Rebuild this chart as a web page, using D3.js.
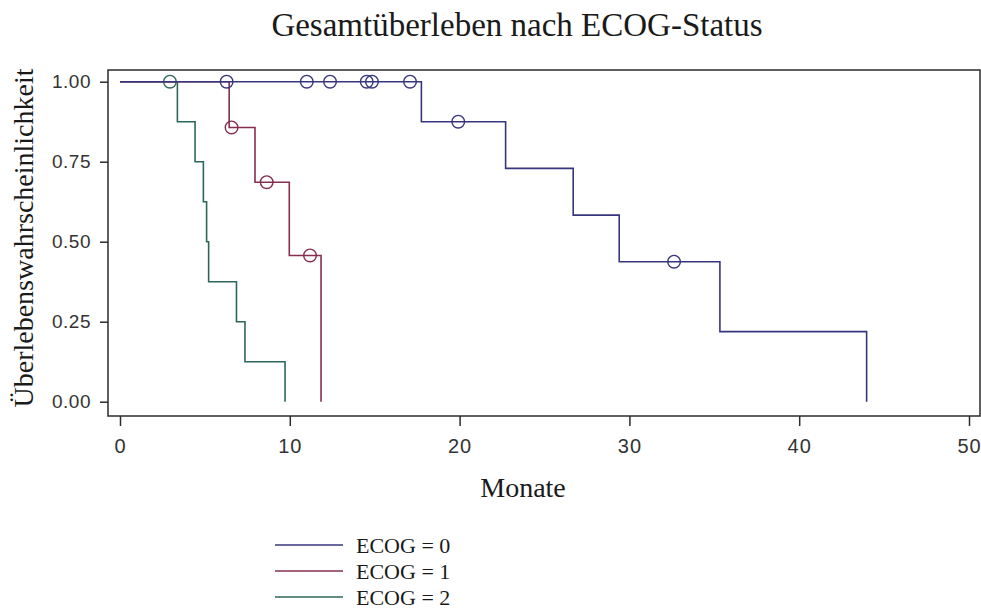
<!DOCTYPE html>
<html>
<head>
<meta charset="utf-8">
<script src="https://cdn.jsdelivr.net/npm/d3@7"></script>
<style>
  html, body { margin: 0; padding: 0; background: #ffffff; }
  svg { display: block; }
</style>
</head>
<body>
<svg id="chart" width="981" height="611"></svg>
<script>
// ---- data ----
const titleText = "Gesamtüberleben nach ECOG-Status";
const xLabel = "Monate";
const yLabel = "Überlebenswahrscheinlichkeit";
const xTicks = [0, 10, 20, 30, 40, 50];
const yTicks = [0, 0.25, 0.5, 0.75, 1.0];
const seriesNames = ["ECOG = 0", "ECOG = 1", "ECOG = 2"];
const seriesColors = ["#36367f", "#862f4b", "#2f665a"];

// ECOG = 0
const ecog0Times = [0, 17.75, 22.71, 26.69, 29.40, 35.33, 43.97];
const ecog0Surv  = [1, 0.875, 0.729, 0.583, 0.4375, 0.219, 0];
const ecog0CensorTimes = [6.28, 11.0, 12.37, 14.53, 14.84, 17.08, 19.92, 32.63];
const ecog0CensorSurv  = [1, 1, 1, 1, 1, 1, 0.875, 0.4375];

// ECOG = 1
const ecog1Times = [0, 6.43, 7.95, 9.97, 11.84];
const ecog1Surv  = [1, 0.857, 0.686, 0.457, 0];
const ecog1CensorTimes = [6.57, 8.64, 11.19];
const ecog1CensorSurv  = [0.857, 0.686, 0.457];

// ECOG = 2
const ecog2Times = [0, 3.38, 4.42, 4.91, 5.10, 5.22, 6.86, 7.36, 9.72];
const ecog2Surv  = [1, 0.875, 0.75, 0.625, 0.5, 0.375, 0.25, 0.125, 0];
const ecog2CensorTimes = [2.94];
const ecog2CensorSurv  = [1];

// ---- build ----
const series = [
  { name: seriesNames[0], color: seriesColors[0], t: ecog0Times, s: ecog0Surv, ct: ecog0CensorTimes, cs: ecog0CensorSurv },
  { name: seriesNames[1], color: seriesColors[1], t: ecog1Times, s: ecog1Surv, ct: ecog1CensorTimes, cs: ecog1CensorSurv },
  { name: seriesNames[2], color: seriesColors[2], t: ecog2Times, s: ecog2Surv, ct: ecog2CensorTimes, cs: ecog2CensorSurv }
];

const svg = d3.select("#chart");
const frame = { left: 108, right: 980, top: 70, bottom: 416 };

const x = d3.scaleLinear().domain([0, 50]).range([120, 969]);
const y = d3.scaleLinear().domain([0, 1]).range([401.7, 81.7]);

const serif = "'Liberation Serif', 'Times New Roman', serif";
const sans = "'Liberation Sans', Arial, sans-serif";
const axisColor = "#2b2b2b";

// title
svg.append("text")
  .attr("x", 517).attr("y", 36)
  .attr("text-anchor", "middle")
  .attr("font-family", serif).attr("font-size", 33)
  .attr("fill", "#1a1a1a")
  .text(titleText);

// frame
svg.append("rect")
  .attr("x", frame.left).attr("y", frame.top)
  .attr("width", frame.right - frame.left).attr("height", frame.bottom - frame.top)
  .attr("fill", "none").attr("stroke", axisColor).attr("stroke-width", 1.5);

// x axis
const xAxis = d3.axisBottom(x).tickValues(xTicks).tickSize(10).tickPadding(13).tickFormat(d3.format("d"));
const gx = svg.append("g").attr("transform", `translate(0,${frame.bottom})`).call(xAxis);
gx.select(".domain").remove();
gx.selectAll(".tick line").attr("stroke", axisColor).attr("stroke-width", 1.5);
gx.selectAll(".tick text").attr("font-family", sans).attr("font-size", 20)
  .attr("fill", "#333").attr("letter-spacing", 1);

// y axis
const yAxis = d3.axisLeft(y).tickValues(yTicks).tickSize(8).tickPadding(9).tickFormat(d3.format(".2f"));
const gy = svg.append("g").attr("transform", `translate(${frame.left},0)`).call(yAxis);
gy.select(".domain").remove();
gy.selectAll(".tick line").attr("stroke", axisColor).attr("stroke-width", 1.5);
gy.selectAll(".tick text").attr("font-family", sans).attr("font-size", 19)
  .attr("fill", "#333").attr("letter-spacing", 0.5);

// axis labels
svg.append("text")
  .attr("x", 523).attr("y", 497)
  .attr("text-anchor", "middle")
  .attr("font-family", serif).attr("font-size", 28)
  .attr("fill", "#1a1a1a")
  .text(xLabel);

svg.append("text")
  .attr("transform", "translate(33,238) rotate(-90)")
  .attr("text-anchor", "middle")
  .attr("font-family", serif).attr("font-size", 28)
  .attr("fill", "#1a1a1a")
  .text(yLabel);

// curves
const line = d3.line()
  .x(d => x(d[0]))
  .y(d => y(d[1]))
  .curve(d3.curveStepAfter);

const drawOrder = [2, 1, 0];
drawOrder.forEach(i => {
  const sr = series[i];
  const pts = sr.t.map((t, k) => [t, sr.s[k]]);
  svg.append("path")
    .datum(pts)
    .attr("d", line)
    .attr("fill", "none")
    .attr("stroke", sr.color)
    .attr("stroke-width", 1.6);
  svg.append("g").selectAll("circle")
    .data(sr.ct.map((t, k) => [t, sr.cs[k]]))
    .join("circle")
    .attr("cx", d => x(d[0]))
    .attr("cy", d => y(d[1]))
    .attr("r", 6.3)
    .attr("fill", "none")
    .attr("stroke", sr.color)
    .attr("stroke-width", 1.4);
});

// legend
const legendY = d3.scalePoint().domain(seriesNames).range([545, 597]);
const lg = svg.append("g");
series.forEach(sr => {
  lg.append("line")
    .attr("x1", 275).attr("x2", 343)
    .attr("y1", legendY(sr.name)).attr("y2", legendY(sr.name))
    .attr("stroke", sr.color).attr("stroke-width", 1.6);
  lg.append("text")
    .attr("x", 356).attr("y", legendY(sr.name) + 7.5)
    .attr("font-family", serif).attr("font-size", 22)
    .attr("fill", "#1a1a1a")
    .text(sr.name);
});
</script>
</body>
</html>
